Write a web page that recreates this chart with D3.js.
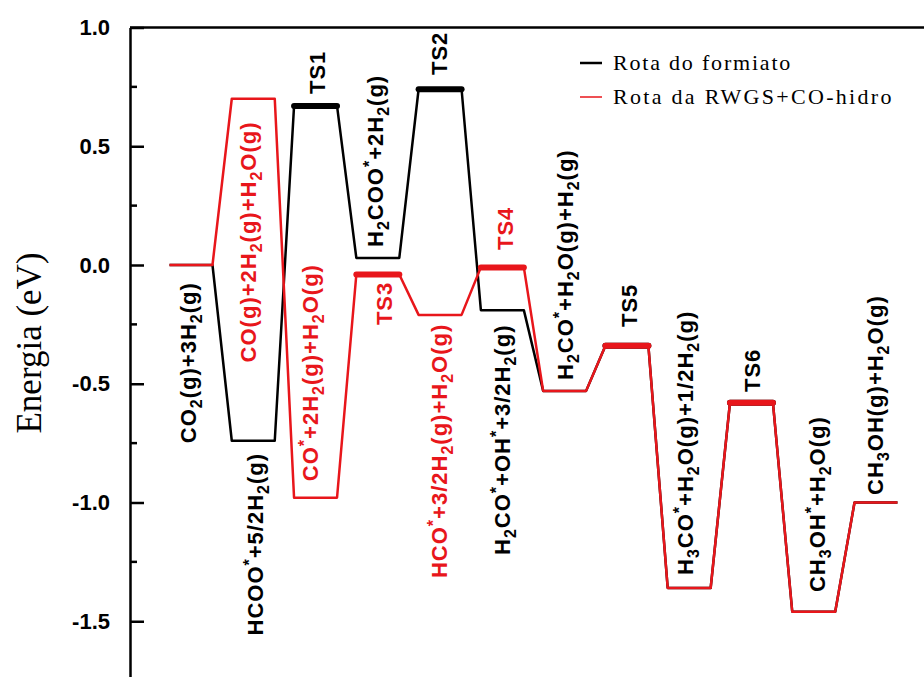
<!DOCTYPE html>
<html>
<head>
<meta charset="utf-8">
<script src="https://cdn.jsdelivr.net/npm/d3@7"></script>
<style>
  body { margin: 0; background: #fff; }
  svg { display: block; }
</style>
</head>
<body>
<script>
// Energy profile: formate route vs RWGS + CO-hydrogenation route

var width = 924, height = 677;

var steps = d3.range(12);
var formiatoEnergy = [0.00, -0.74, 0.67, 0.03, 0.74, -0.19, -0.53, -0.34, -1.36, -0.58, -1.46, -1.00];
var rwgsEnergy     = [0.00, 0.70, -0.98, -0.04, -0.21, -0.01, -0.53, -0.34, -1.36, -0.58, -1.46, -1.00];
var formiatoTS = [2, 4, 7, 9];
var rwgsTS = [3, 5, 7, 9];

var yTicks = [1.0, 0.5, 0.0, -0.5, -1.0, -1.5];
var yMinorTicks = [0.75, 0.25, -0.25, -0.75, -1.25];

var legendNames = ["Rota do formiato", "Rota da RWGS+CO-hidro"];

// species labels ("_x" = subscript, "*" = superscript)
var labelTexts = [
	"CO_2(g)+3H_2(g)", "CO(g)+2H_2(g)+H_2O(g)", "CO*+2H_2(g)+H_2O(g)", "HCOO*+5/2H_2(g)",
	"TS1", "H_2COO*+2H_2(g)", "TS2", "TS3", "HCO*+3/2H_2(g)+H_2O(g)", "TS4",
	"H_2CO*+OH*+3/2H_2(g)", "H_2CO*+H_2O(g)+H_2(g)", "TS5", "H_3CO*+H_2O(g)+1/2H_2(g)",
	"TS6", "CH_3OH*+H_2O(g)", "CH_3OH(g)+H_2O(g)"
];
var labelRoute = ["f", "r", "r", "f", "f", "f", "f", "r", "r", "r", "f", "f", "f", "f", "f", "f", "f"];

// label anchors in data space (step, energy) : bottom end of the rotated text
var labelAnchor = [
	[0.08, -0.75], [1.04, -0.41], [2.04, -0.91], [1.16, -1.56],
	[2.15, 0.72], [3.08, 0.076], [4.11, 0.80], [3.23, -0.253], [4.11, -1.318], [5.17, 0.063],
	[5.12, -1.221], [6.13, -0.484], [7.16, -0.261], [8.06, -1.305],
	[9.14, -0.535], [10.18, -1.377], [11.11, -0.968]
];

var black = "#000000", red = "#e8161b";
var sansFont = "'Liberation Sans', Arial, sans-serif";
var serifFont = "'Liberation Serif', 'Times New Roman', serif";

//****************************************************************************************************************************//
// Scales

var x = d3.scaleLinear().domain([0, 11]).range([191, 876]);
var y = d3.scaleLinear().domain([-1.74, 1.0]).range([678.25, 27.5]);
var halfLevel = 0.345;

var canvas = d3.select("body").append("svg")
			.attr("width", width)
			.attr("height", height);

canvas.append("rect").attr("width", width).attr("height", height).attr("fill", "white");

//****************************************************************************************************************************//
// Axis

var axisX = 130;

var yAxis = canvas.append("g")
			.attr("transform", "translate(" + axisX + ",0)")
			.call(d3.axisLeft(y)
				.tickValues(yTicks)
				.tickSizeInner(-14)
				.tickSizeOuter(0)
				.tickPadding(20)
				.tickFormat(function(d){ return d.toFixed(1); }));

yAxis.select(".domain").attr("stroke-width", 2.5);
yAxis.selectAll(".tick line").attr("stroke-width", 2.5);
yAxis.selectAll(".tick text")
			.style("font-family", sansFont)
			.style("font-weight", "bold")
			.style("font-size", "22px")
			.attr("fill", black);

yAxis.selectAll(".minor")
			.data(yMinorTicks)
			.enter().append("line")
			.attr("x1", 0).attr("x2", 7)
			.attr("y1", function(d){ return y(d); })
			.attr("y2", function(d){ return y(d); })
			.attr("stroke", black)
			.attr("stroke-width", 2.5);

canvas.append("line")
			.attr("x1", axisX).attr("x2", width)
			.attr("y1", y(1.0)).attr("y2", y(1.0))
			.attr("stroke", black)
			.attr("stroke-width", 2.5);

canvas.append("text")
			.attr("transform", "translate(41,343) rotate(-90)")
			.attr("text-anchor", "middle")
			.style("font-family", serifFont)
			.style("font-size", "35px")
			.text("Energia (eV)");

//****************************************************************************************************************************//
// Routes

function drawRoute(energy, tsSteps, color){
	var pts = [];
	steps.forEach(function(i){
		pts.push([x(i - halfLevel), y(energy[i])]);
		pts.push([x(i + halfLevel), y(energy[i])]);
	});
	canvas.append("path")
			.datum(pts)
			.attr("d", d3.line())
			.attr("fill", "none")
			.attr("stroke", color)
			.attr("stroke-width", 2.5)
			.attr("stroke-linejoin", "round");

	canvas.selectAll(null)
			.data(tsSteps)
			.enter().append("line")
			.attr("x1", function(i){ return x(i - halfLevel); })
			.attr("x2", function(i){ return x(i + halfLevel); })
			.attr("y1", function(i){ return y(energy[i]); })
			.attr("y2", function(i){ return y(energy[i]); })
			.attr("stroke", color)
			.attr("stroke-width", 6)
			.attr("stroke-linecap", "round");
}

drawRoute(formiatoEnergy, formiatoTS, black);
drawRoute(rwgsEnergy, rwgsTS, red);

//****************************************************************************************************************************//
// Labels

function richText(sel, str){
	var parts = [], buf = "", i = 0;
	while (i < str.length){
		var c = str[i];
		if (c === "_" || c === "*"){
			if (buf) { parts.push({t: buf, k: "n"}); buf = ""; }
			if (c === "_") { parts.push({t: str[i + 1], k: "sub"}); i += 2; }
			else { parts.push({t: "*", k: "sup"}); i += 1; }
		} else { buf += c; i += 1; }
	}
	if (buf) parts.push({t: buf, k: "n"});

	var shift = 0;
	parts.forEach(function(p){
		var target = p.k === "sub" ? 6 : (p.k === "sup" ? -8 : 0);
		sel.append("tspan")
			.attr("dy", target - shift)
			.style("font-size", p.k === "n" ? "22px" : "16px")
			.text(p.t);
		shift = target;
	});
}

labelTexts.forEach(function(txt, k){
	var a = labelAnchor[k];
	var t = canvas.append("text")
			.attr("transform", "translate(" + x(a[0]) + "," + y(a[1]) + ") rotate(-90)")
			.attr("text-anchor", "start")
			.style("font-family", sansFont)
			.style("font-weight", "bold")
			.style("font-size", "22px")
			.style("letter-spacing", "1px")
			.attr("fill", labelRoute[k] === "r" ? red : black);
	richText(t, txt);
});

//****************************************************************************************************************************//
// Legend

var legend = canvas.append("g").attr("transform", "translate(580,63)");

legend.selectAll("g")
			.data(legendNames)
			.enter().append("g")
			.attr("transform", function(d, i){ return "translate(0," + (i * 34) + ")"; })
			.each(function(d, i){
				var g = d3.select(this);
				g.append("line")
					.attr("x1", 0).attr("x2", 22)
					.attr("stroke", i === 0 ? black : red)
					.attr("stroke-width", i === 0 ? 2.5 : 1.5);
				g.append("text")
					.attr("x", 33)
					.attr("y", 7)
					.style("font-family", serifFont)
					.style("font-size", "22px")
					.style("letter-spacing", i === 0 ? "1.8px" : "2.3px")
					.text(d);
			});
</script>
</body>
</html>
